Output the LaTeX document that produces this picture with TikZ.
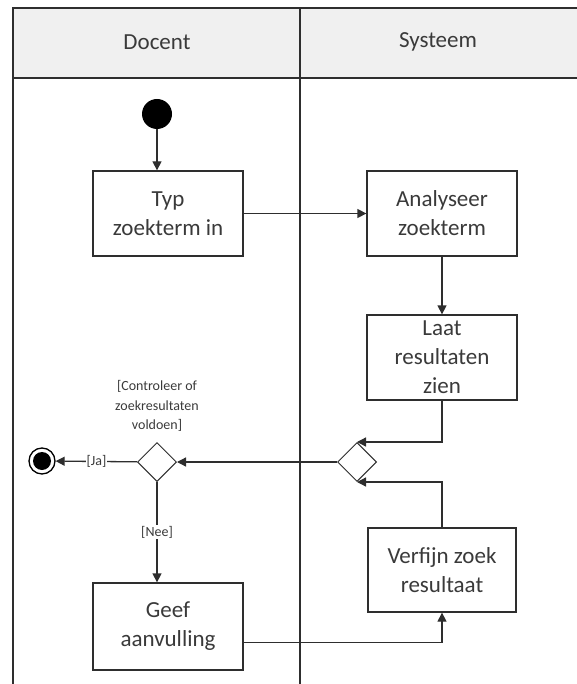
\documentclass[tikz,border=0pt]{standalone}
\usepackage{fontspec}
\setmainfont{Carlito}
\usetikzlibrary{shapes.geometric,arrows.meta,positioning}

\definecolor{inkgray}{HTML}{2E2E2E}
\definecolor{textgray}{HTML}{3A3A3A}
\definecolor{headgray}{HTML}{F0F0F0}

\tikzset{
  activity/.style={draw=inkgray, line width=1.3pt, fill=white, minimum width=150pt, minimum height=85pt,
    align=center, text=textgray, font=\fontsize{23}{29}\selectfont},
  decision/.style={draw=inkgray, line width=1pt, diamond, minimum size=39pt, inner sep=0pt, fill=white},
  flow/.style={draw=inkgray, line width=1.3pt, -{Triangle[length=9pt,width=9pt]}},
  guard/.style={fill=white, inner sep=1pt, text=textgray, font=\fontsize{14}{18}\selectfont},
}

\begin{document}
\begin{tikzpicture}[x=1pt,y=-1pt]
\useasboundingbox (0,0) rectangle (576,684);
% swimlanes
\draw[inkgray, line width=1.3pt, fill=headgray] (13,8) rectangle (580,78);
\draw[inkgray, line width=1.3pt] (13,78) -- (13,684);
\draw[inkgray, line width=1.3pt] (300,8) -- (300,684);
\node[text=textgray, font=\fontsize{23}{28}\selectfont] (docent) at (157,42) {Docent};
\node[text=textgray, font=\fontsize{23}{28}\selectfont] (systeem) at (438,42) {Systeem};

% nodes
\node[circle, fill=black, minimum size=30pt, inner sep=0pt] (start) at (157,114) {};
\node[activity] (typ) at (168,213.5) {Typ\\zoekterm in};
\node[activity] (analyse) at (442,213.5) {Analyseer\\zoekterm};
\node[activity] (laat) at (442,357.5) {Laat\\resultaten\\zien};
\node[decision] (merge) at (357,462) {};
\node[decision] (check) at (157,462) {};
\node[circle, draw=black, line width=1.3pt, minimum size=26pt, inner sep=0pt] (stop) at (42,461) {};
\node[circle, fill=black, minimum size=18pt, inner sep=0pt] at (stop) {};
\node[activity, minimum width=148pt, minimum height=84pt] (verfijn) at (442,570) {Verfijn zoek\\resultaat};
\node[activity, minimum height=87pt] (geef) at (168,626.5) {Geef\\aanvulling};
\node[guard, fill=none, align=center, font=\fontsize{14}{19.5}\selectfont, above=9pt of check] (cond)
  {[Controleer of\\zoekresultaten\\voldoen]};

% connectors
\draw[flow] (start) -- (start |- typ.north);
\draw[flow] (typ) -- (analyse);
\draw[flow] (analyse) -- (laat);
\draw[flow] (laat.south) |- (merge.north);
\draw[flow] (verfijn.north) |- (merge.south);
\draw[flow] (merge) -- (check);
\draw[flow] (check) -- node[guard] {[Ja]} (stop);
\draw[flow] (check) -- node[guard, pos=0.5] {[Nee]} (check |- geef.north);
\draw[flow] ([yshift=-16pt]geef.east) -| (verfijn.south);
\end{tikzpicture}
\end{document}
